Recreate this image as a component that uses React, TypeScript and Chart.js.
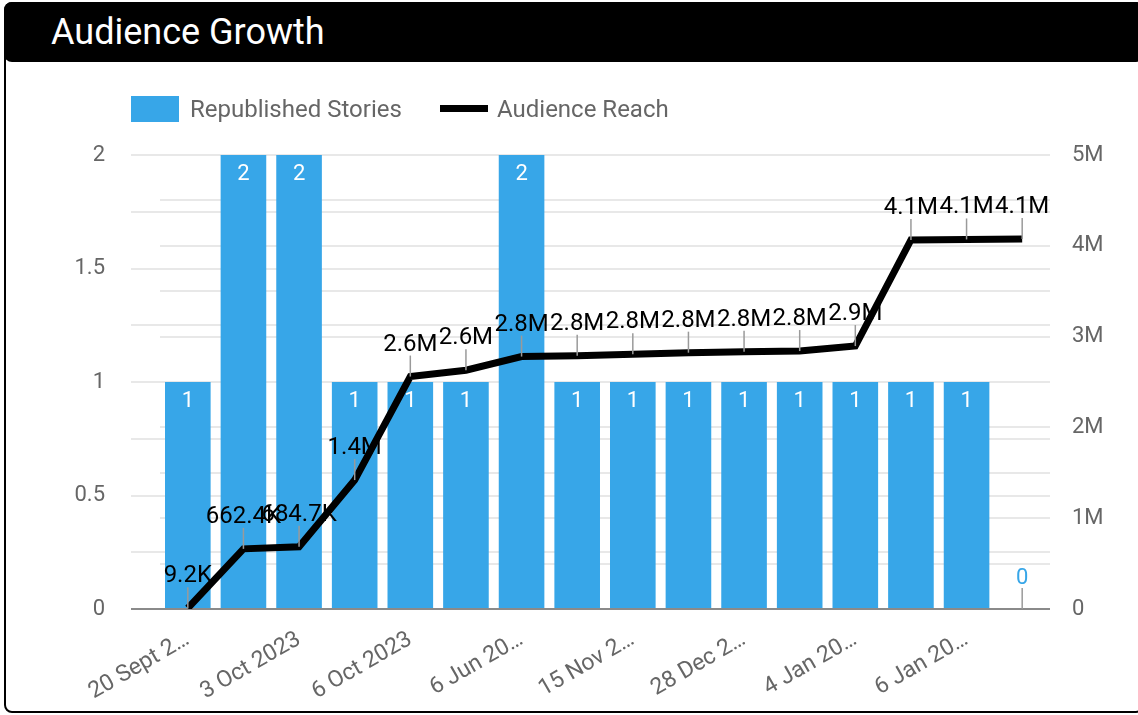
import React, { useEffect, useRef } from 'react';
import { Chart, registerables } from 'chart.js';

Chart.register(...registerables);

// x-axis categories (only every other tick label is visible in the reference)
const categories = [
  '20 Sept 2…', '', '3 Oct 2023', '', '6 Oct 2023', '', '6 Jun 20…', '',
  '15 Nov 2…', '', '28 Dec 2…', '', '4 Jan 20…', '', '6 Jan 20…', '',
];
const republishedStories = [1, 2, 2, 1, 1, 1, 2, 1, 1, 1, 1, 1, 1, 1, 1, 0];
const audienceReach = [
  9200, 662400, 684700, 1420000, 2560000, 2630000, 2780000, 2790000,
  2805000, 2823000, 2834000, 2841000, 2896000, 4064000, 4070000, 4075000,
];
const leftAxisLabels = ['0', '0.5', '1', '1.5', '2'];
const rightAxisLabels = ['0', '1M', '2M', '3M', '4M', '5M'];

const BAR_COLOR = '#37a6e8';
const TEXT_GRAY = '#666666';
const FONT = 'Roboto';

function fmtReach(v: number): string {
  if (v < 1e6) return (v / 1e3).toFixed(1) + 'K';
  return (v / 1e6).toFixed(1) + 'M';
}

const valueLabels = {
  id: 'valueLabels',
  afterDatasetsDraw(chart: any) {
    const ctx = chart.ctx;
    const lineMeta = chart.getDatasetMeta(0);
    const barMeta = chart.getDatasetMeta(1);
    const leader = (x: number, y: number) => {
      ctx.strokeStyle = '#9a9a9a';
      ctx.lineWidth = 1.5;
      ctx.beginPath();
      ctx.moveTo(x, y);
      ctx.lineTo(x, y - 21);
      ctx.stroke();
    };
    ctx.save();
    ctx.textAlign = 'center';
    ctx.textBaseline = 'alphabetic';
    barMeta.data.forEach((el: any, i: number) => {
      const v = republishedStories[i];
      const { x, y } = el.getProps(['x', 'y'], true);
      ctx.font = `22px ${FONT}`;
      if (v > 0) {
        ctx.fillStyle = '#ffffff';
        ctx.fillText(String(v), x, y + 25);
      } else {
        leader(x, y);
        ctx.fillStyle = BAR_COLOR;
        ctx.fillText('0', x, y - 25);
      }
    });
    ctx.font = `24px ${FONT}`;
    lineMeta.data.forEach((el: any, i: number) => {
      const { x, y } = el.getProps(['x', 'y'], true);
      leader(x, y);
      ctx.fillStyle = '#000000';
      ctx.fillText(fmtReach(audienceReach[i]), x, y - 26);
    });
    ctx.restore();
  },
};

const gridColor = (c: any) =>
  c.tick && c.tick.value === 0 ? '#8a8a8a' : '#e8e8e8';

export default function App() {
  const canvasRef = useRef<HTMLCanvasElement | null>(null);

  useEffect(() => {
    document.body.style.margin = '0';
    const canvas = canvasRef.current;
    if (!canvas) return;
    const chart = new Chart(canvas, {
      type: 'bar',
      data: {
        labels: categories,
        datasets: [
          {
            type: 'line',
            label: 'Audience Reach',
            data: audienceReach,
            yAxisID: 'y1',
            borderColor: '#000000',
            backgroundColor: '#000000',
            borderWidth: 7,
            pointRadius: 0,
            tension: 0,
            order: 0,
          } as any,
          {
            type: 'bar',
            label: 'Republished Stories',
            data: republishedStories,
            yAxisID: 'y',
            backgroundColor: BAR_COLOR,
            categoryPercentage: 1,
            barPercentage: 0.82,
            order: 1,
          },
        ],
      },
      options: {
        animation: false,
        responsive: false,
        devicePixelRatio: 1,
        layout: { padding: { top: 155, left: 0, right: 0, bottom: 0 } },
        plugins: {
          legend: { display: false },
          tooltip: { enabled: false },
        },
        scales: {
          x: {
            grid: { display: false },
            border: { display: false },
            ticks: {
              autoSkip: false,
              minRotation: 30,
              maxRotation: 30,
              padding: 9,
              color: TEXT_GRAY,
              font: { family: FONT, size: 23 },
            },
            afterFit: (s: any) => {
              s.height = 715 - 609;
            },
          },
          y: {
            position: 'left',
            min: 0,
            max: 2,
            border: { display: false },
            grid: { color: gridColor, lineWidth: 2, drawTicks: true, tickLength: 29 },
            ticks: {
              stepSize: 0.25,
              padding: 26,
              color: TEXT_GRAY,
              font: { family: FONT, size: 22 },
              callback: (v: any) => {
                const idx = Math.round(Number(v) * 2);
                return Math.abs(Number(v) * 2 - idx) < 1e-9 ? leftAxisLabels[idx] : '';
              },
            },
            afterFit: (s: any) => {
              s.width = 160;
            },
          },
          y1: {
            position: 'right',
            min: 0,
            max: 5000000,
            border: { display: false },
            grid: { color: gridColor, lineWidth: 2, drawTicks: false },
            ticks: {
              stepSize: 500000,
              padding: 22,
              color: TEXT_GRAY,
              font: { family: FONT, size: 22 },
              callback: (v: any) => {
                const n = Number(v);
                return n % 1000000 === 0 ? rightAxisLabels[n / 1000000] : '';
              },
            },
            afterFit: (s: any) => {
              s.width = 1138 - 1050;
            },
          },
        },
      },
      plugins: [valueLabels],
    });
    return () => chart.destroy();
  }, []);

  return (
    <div style={{ position: 'absolute', left: 0, top: 0, width: 1138, height: 715, overflow: 'hidden', background: '#fff', fontFamily: FONT }}>
      <canvas ref={canvasRef} width={1138} height={715} style={{ position: 'absolute', left: 0, top: 0, display: 'block' }} />
      <div style={{ position: 'absolute', left: 4, top: 2, width: 1140, height: 711, border: '2px solid #000', borderRadius: 8, boxSizing: 'border-box', pointerEvents: 'none' }} />
      <div style={{ position: 'absolute', left: 4, top: 2, width: 1140, height: 60, background: '#000', borderRadius: 8, color: '#fff', fontSize: 36, lineHeight: '60px', paddingLeft: 47, boxSizing: 'border-box' }}>
        Audience Growth
      </div>
      <div style={{ position: 'absolute', left: 131, top: 96, width: 48, height: 26, background: BAR_COLOR }} />
      <div style={{ position: 'absolute', left: 190, top: 96, height: 26, lineHeight: '26px', fontSize: 24, color: TEXT_GRAY }}>Republished Stories</div>
      <div style={{ position: 'absolute', left: 440, top: 105, width: 48, height: 7, background: '#000' }} />
      <div style={{ position: 'absolute', left: 497, top: 96, height: 26, lineHeight: '26px', fontSize: 24, color: TEXT_GRAY }}>Audience Reach</div>
    </div>
  );
}
